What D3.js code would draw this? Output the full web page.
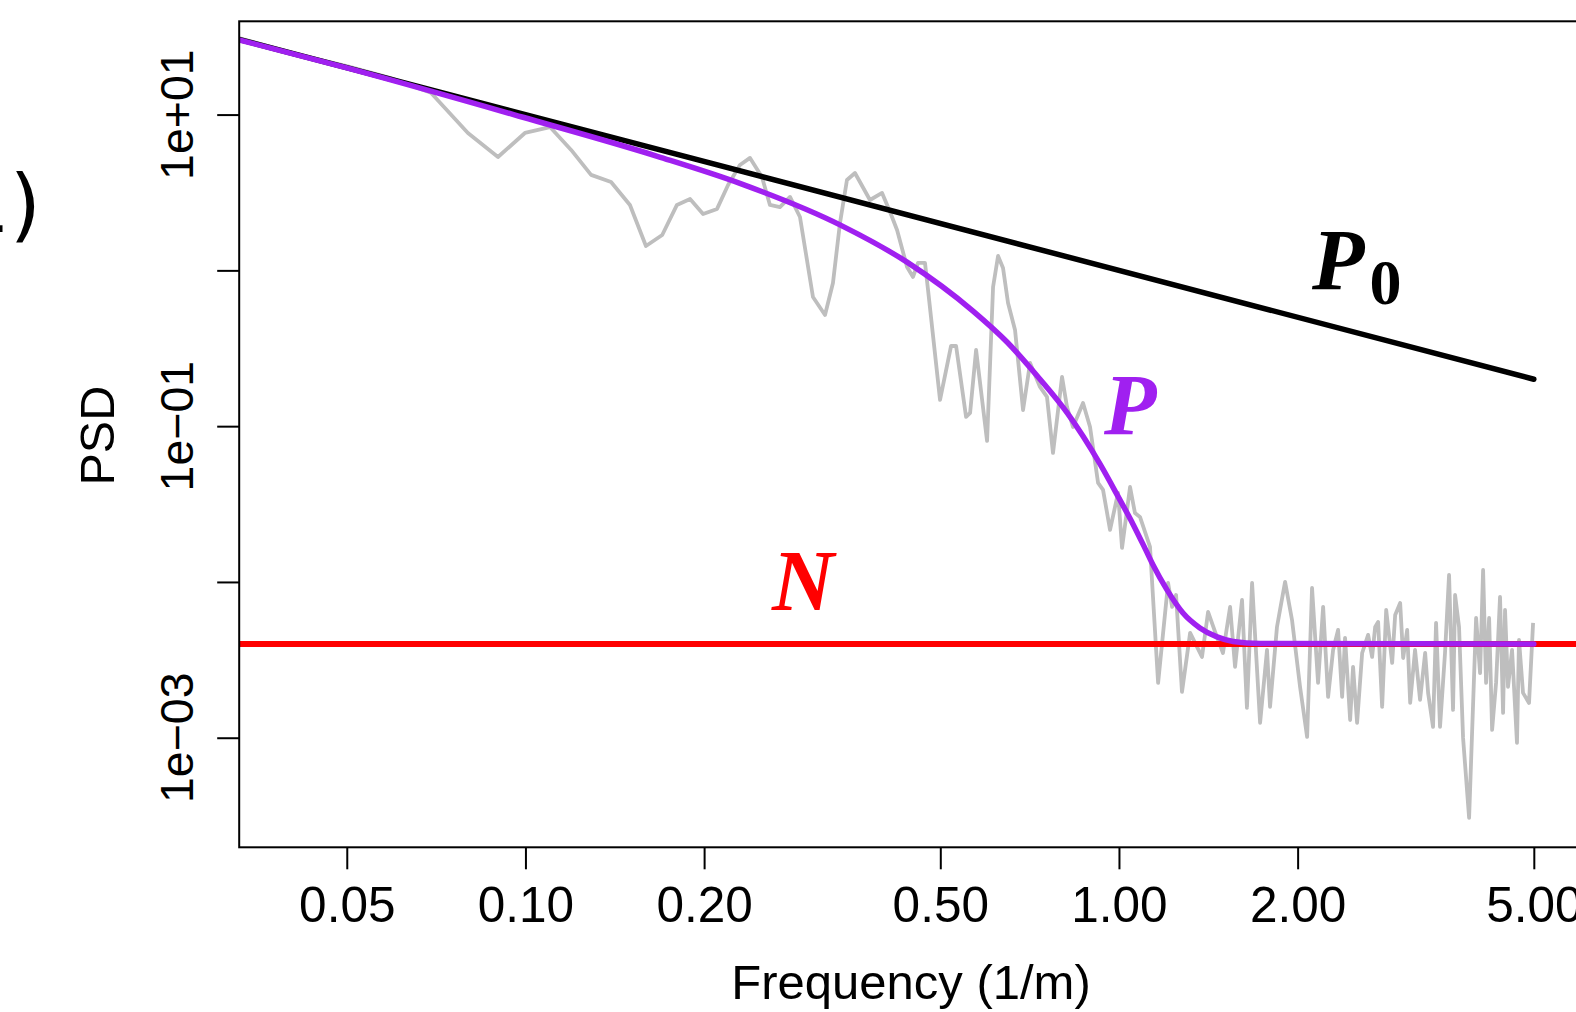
<!DOCTYPE html>
<html>
<head>
<meta charset="utf-8">
<script src="https://cdn.jsdelivr.net/npm/d3@7"></script>
<style>
  html, body { margin: 0; padding: 0; background: #ffffff; }
  svg { display: block; }
</style>
</head>
<body>
<svg id="chart" width="1576" height="1012"></svg>
<script>
// ---------------- data ----------------
// Raw (noisy) periodogram, grey line
const grayFreq = [0.0329, 0.0417, 0.05, 0.0591, 0.0693, 0.0800, 0.0899, 0.0998, 0.110, 0.1194,
  0.129, 0.1394, 0.150, 0.1596, 0.170, 0.180, 0.1894, 0.1992, 0.2103, 0.2195,
  0.2298, 0.2390, 0.2503, 0.2582, 0.2684, 0.2791, 0.2901, 0.3051, 0.3197, 0.3297,
  0.3388, 0.3481, 0.3591, 0.3806, 0.3989, 0.4115, 0.4228, 0.4395, 0.4498, 0.4586,
  0.4712, 0.4768, 0.4995, 0.5213, 0.5316, 0.5526, 0.5613, 0.5745, 0.5995, 0.6136,
  0.6256, 0.6378, 0.6503, 0.6682, 0.6893, 0.7083, 0.7362, 0.7564, 0.7742, 0.8018,
  0.8175, 0.8367, 0.8699, 0.8939, 0.9222, 0.9401, 0.966, 0.9965, 1.012, 1.044,
  1.064, 1.085, 1.128, 1.164, 1.210, 1.229, 1.248, 1.277, 1.318, 1.380,
  1.413, 1.452, 1.497, 1.539, 1.569, 1.612, 1.643, 1.676, 1.729, 1.776,
  1.797, 1.846, 1.868, 1.905, 1.957, 2.019, 2.075, 2.115, 2.165, 2.208,
  2.251, 2.295, 2.340, 2.377, 2.404, 2.452, 2.480, 2.519, 2.569, 2.629,
  2.670, 2.702, 2.733, 2.776, 2.820, 2.886, 2.920, 2.977, 3.012, 3.059,
  3.095, 3.154, 3.216, 3.280, 3.318, 3.382, 3.422, 3.475, 3.543, 3.599,
  3.655, 3.684, 3.741, 3.800, 3.890, 3.997, 4.059, 4.107, 4.155, 4.204,
  4.253, 4.319, 4.386, 4.438, 4.472, 4.524, 4.595, 4.684, 4.721, 4.795,
  4.908, 4.986];
const grayPSD = [31.0, 24.1, 20.5, 17.2, 13.8, 7.62, 5.34, 7.62, 8.32, 5.93,
  4.10, 3.69, 2.63, 1.434, 1.687, 2.63, 2.87, 2.30, 2.48, 3.53,
  4.75, 5.27, 3.98, 2.63, 2.55, 2.96, 2.20, 0.675, 0.517, 0.830,
  2.01, 3.80, 4.22, 2.83, 3.14, 2.37, 1.816, 1.051, 0.907, 1.116,
  1.116, 0.748, 0.1473, 0.327, 0.327, 0.1146, 0.1216, 0.3083, 0.0804, 0.782,
  1.237, 1.036, 0.6175, 0.4145, 0.127, 0.2544, 0.1785, 0.154, 0.0673, 0.207,
  0.1328, 0.0988, 0.1409, 0.0988, 0.0432, 0.0390, 0.02158, 0.0373, 0.01653, 0.0407,
  0.0277, 0.02614, 0.01677, 0.002247, 0.00985, 0.00691, 0.00825, 0.001968, 0.00471, 0.0033,
  0.00642, 0.00478, 0.0035, 0.00691, 0.00285, 0.00766, 0.001554, 0.00985, 0.001245, 0.00366,
  0.001577, 0.00514, 0.00661, 0.0100, 0.0057, 0.00212, 0.001012, 0.00915, 0.002247, 0.00691,
  0.001827, 0.00366, 0.00492, 0.001827, 0.00437, 0.0013, 0.00285, 0.001245, 0.0035, 0.00457,
  0.0033, 0.00514, 0.00554, 0.001577, 0.00661, 0.00302, 0.00614, 0.00733, 0.00325, 0.00492,
  0.001673, 0.00366, 0.00175, 0.0035, 0.00194, 0.001173, 0.00546, 0.001173, 0.0035, 0.01109,
  0.001509, 0.00825, 0.00514, 0.000997, 0.000306, 0.00587, 0.0026, 0.01194, 0.002247, 0.00587,
  0.001122, 0.002247, 0.00801, 0.001443, 0.00661, 0.00212, 0.00366, 0.000926, 0.00424, 0.00194,
  0.001673, 0.00546];

// Fitted spectrum P (purple)
const pFreq = [0.0329, 0.05, 0.0987, 0.1673, 0.2298, 0.3388, 0.4395, 0.5678, 0.6477, 0.7362,
  0.8175, 0.9294, 1.000, 1.056, 1.110, 1.142, 1.205, 1.282, 1.369, 1.463, 1.557, 1.729, 5.0];
const pPSD = [30.2, 19.95, 9.65, 5.38, 3.62, 1.96, 1.13, 0.548, 0.347, 0.200,
  0.122, 0.057, 0.0345, 0.0235, 0.0160, 0.0128, 0.00889, 0.00632, 0.00507, 0.00444, 0.00415, 0.00402, 0.004];

// Power law P0 (black)
const p0Freq = [0.0329, 5.0];
const p0PSD = [30.4, 0.2];

// Noise level N (red)
const noiseLevel = 0.004;

// Axes
const xTicks = [0.05, 0.10, 0.20, 0.50, 1.00, 2.00, 5.00];
const xTickLabels = ["0.05", "0.10", "0.20", "0.50", "1.00", "2.00", "5.00"];
const yTicks = [10, 1, 0.1, 0.01, 0.001];
const yTickLabels = ["1e+01", "", "1e\u221201", "", "1e\u221203"];

// ---------------- drawing ----------------
const svg = d3.select("#chart");
const L = 239.2, R = 1578, T = 21.3, B = 847.3;

const x = d3.scaleLog().domain([0.03294, 5.935]).range([L, R]);
const y = d3.scaleLog().domain([0.000198, 39.7]).range([B, T]);

svg.append("defs").append("clipPath").attr("id", "plotclip")
  .append("rect").attr("x", L).attr("y", T).attr("width", R - L).attr("height", B - T);

const plot = svg.append("g").attr("clip-path", "url(#plotclip)");

const line = d3.line().x(d => x(d[0])).y(d => y(d[1]));
const smooth = d3.line().x(d => x(d[0])).y(d => y(d[1])).curve(d3.curveMonotoneX);

plot.append("path")
  .datum(grayFreq.map((f, i) => [f, grayPSD[i]]))
  .attr("d", line)
  .attr("fill", "none").attr("stroke", "#BEBEBE").attr("stroke-width", 3.8)
  .attr("stroke-linejoin", "round");

plot.append("path")
  .datum(p0Freq.map((f, i) => [f, p0PSD[i]]))
  .attr("d", line)
  .attr("fill", "none").attr("stroke", "#000000").attr("stroke-width", 5.5)
  .attr("stroke-linecap", "round");

plot.append("path")
  .datum([[x.domain()[0], noiseLevel], [x.domain()[1], noiseLevel]])
  .attr("d", line)
  .attr("fill", "none").attr("stroke", "#FF0000").attr("stroke-width", 6);

plot.append("path")
  .datum(pFreq.map((f, i) => [f, pPSD[i]]))
  .attr("d", smooth)
  .attr("fill", "none").attr("stroke", "#A020F0").attr("stroke-width", 5.5)
  .attr("stroke-linecap", "round");

// box
svg.append("rect").attr("x", L).attr("y", T).attr("width", R - L).attr("height", B - T)
  .attr("fill", "none").attr("stroke", "#000").attr("stroke-width", 2);

const FONT = "'Liberation Sans', Arial, Helvetica, sans-serif";

// x axis
const xAxis = svg.append("g").attr("transform", `translate(0,${B})`)
  .call(d3.axisBottom(x).tickValues(xTicks)
    .tickFormat((d, i) => xTickLabels[i]).tickSize(22).tickPadding(17.6));
xAxis.select(".domain").remove();
xAxis.selectAll(".tick line").attr("stroke", "#000").attr("stroke-width", 2);
xAxis.selectAll(".tick text").attr("font-family", FONT).attr("font-size", 49.5).attr("fill", "#000");

// y axis
const yAxis = svg.append("g").attr("transform", `translate(${L},0)`)
  .call(d3.axisLeft(y).tickValues(yTicks).tickFormat("").tickSize(22));
yAxis.select(".domain").remove();
yAxis.selectAll(".tick line").attr("stroke", "#000").attr("stroke-width", 2);

svg.append("g").selectAll("text").data(yTicks.map((v, i) => [v, yTickLabels[i]]).filter(d => d[1] !== ""))
  .enter().append("text")
  .attr("transform", d => `translate(193,${y(d[0])}) rotate(-90)`)
  .attr("text-anchor", "middle")
  .attr("font-family", FONT).attr("font-size", 46.5).attr("fill", "#000")
  .text(d => d[1]);

// axis titles
svg.append("text").attr("x", 911).attr("y", 999).attr("text-anchor", "middle")
  .attr("font-family", FONT).attr("font-size", 49).attr("fill", "#000")
  .text("Frequency (1/m)");
svg.append("text").attr("transform", "translate(113.6,435.7) rotate(-90)")
  .attr("text-anchor", "middle")
  .attr("font-family", FONT).attr("font-size", 48.5).attr("fill", "#000")
  .text("PSD");

// panel label (cut off at the left edge)
svg.append("text").attr("x", 41).attr("y", 232).attr("text-anchor", "end")
  .attr("font-family", "'DejaVu Sans', sans-serif").attr("font-size", 80).attr("fill", "#000")
  .text("(1)");

// curve labels
const SERIF = "'Liberation Serif', 'DejaVu Serif', serif";
const p0Label = svg.append("text").attr("x", 1312).attr("y", 289)
  .attr("font-family", SERIF).attr("font-weight", "bold").attr("fill", "#000");
p0Label.append("tspan").attr("font-style", "italic").attr("font-size", 86).text("P");
p0Label.append("tspan").attr("font-size", 64).attr("dx", 5).attr("dy", 15).text("0");

svg.append("text").attr("x", 1104).attr("y", 434)
  .attr("font-family", SERIF).attr("font-weight", "bold").attr("font-style", "italic")
  .attr("font-size", 86).attr("fill", "#A020F0").text("P");

svg.append("text").attr("x", 772).attr("y", 610)
  .attr("font-family", SERIF).attr("font-weight", "bold").attr("font-style", "italic")
  .attr("font-size", 86).attr("fill", "#FF0000").text("N");
</script>
</body>
</html>
